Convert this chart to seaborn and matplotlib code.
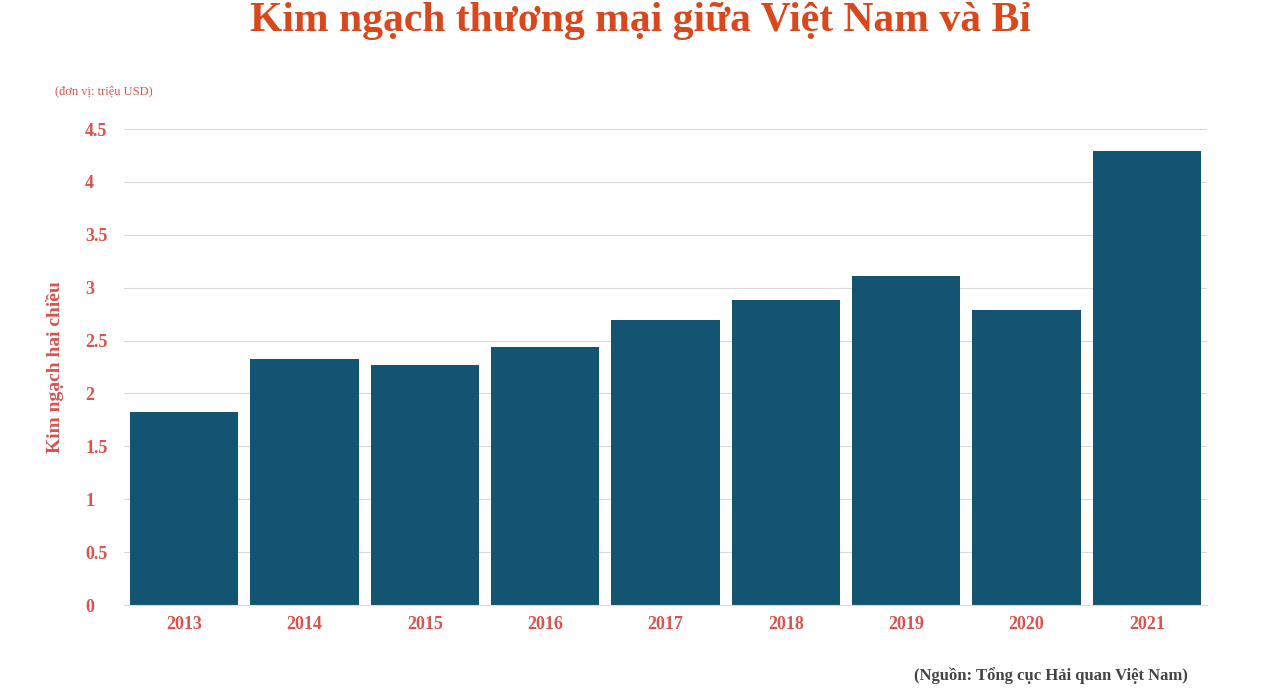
import matplotlib
matplotlib.use("Agg")
import matplotlib.pyplot as plt
import pandas as pd
import seaborn as sns

years = ["2013", "2014", "2015", "2016", "2017", "2018", "2019", "2020", "2021"]
values = [1.82, 2.33, 2.27, 2.44, 2.69, 2.88, 3.11, 2.79, 4.29]
yticks = [0, 0.5, 1, 1.5, 2, 2.5, 3, 3.5, 4, 4.5]
ytick_labels = ["0", "0.5", "1", "1.5", "2", "2.5", "3", "3.5", "4", "4.5"]

RED = "#d9534f"
BAR = "#135473"
plt.rcParams["font.family"] = "Liberation Serif"

df = pd.DataFrame({"year": years, "value": values})

fig = plt.figure(figsize=(12.8, 6.92), dpi=100)
ax = fig.add_axes([124 / 1280, 1 - 605 / 692, 1083 / 1280, 476 / 692])
sns.barplot(data=df, x="year", y="value", color=BAR, width=0.9, saturation=1, ax=ax)

ax.set_xlim(-0.5, 8.5)
ax.set_ylim(0, 4.5)
ax.set_yticks(yticks)
ax.set_yticklabels(ytick_labels)
ax.yaxis.grid(True, color="#d9d9d9", linewidth=0.8)
ax.set_axisbelow(True)
for s in ["top", "right", "left"]:
    ax.spines[s].set_visible(False)
ax.spines["bottom"].set_color("#d9d9d9")
ax.tick_params(axis="both", length=0, labelsize=13, labelcolor=RED)
ax.tick_params(axis="y", pad=28)
ax.tick_params(axis="x", pad=8)
for lbl in ax.get_xticklabels() + ax.get_yticklabels():
    lbl.set_fontweight("bold")
for lbl in ax.get_yticklabels():
    lbl.set_horizontalalignment("left")
ax.set_xlabel("")
ax.set_ylabel("Kim ngạch hai chiều", color=RED, fontsize=14, fontweight="bold", labelpad=10)
ax.yaxis.set_label_coords(-0.055, 0.5)

fig.text(0.5, 0.97, "Kim ngạch thương mại giữa Việt Nam và Bỉ", ha="center", va="center",
         fontsize=30, fontweight="bold", color="#d9481c")
fig.text(55 / 1280, 1 - 91 / 692, "(đơn vị: triệu USD)", ha="left", va="center",
         fontsize=9, color=RED)
fig.text(1188 / 1280, 1 - 676 / 692, "(Nguồn: Tổng cục Hải quan Việt Nam)", ha="right",
         va="center", fontsize=12, fontweight="bold", color="#444444")

fig.savefig("out.png", dpi=100)
